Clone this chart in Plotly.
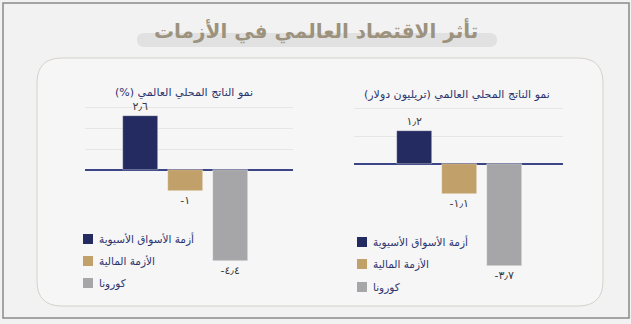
import plotly.graph_objects as go

# ---- data ----
crises = ["أزمة الأسواق الأسيوية", "الأزمة المالية", "كورونا"]
gdp_growth_pct = [2.6, -1.0, -4.4]          # نمو الناتج المحلي العالمي (%)
gdp_growth_tn = [1.2, -1.1, -3.7]           # نمو الناتج المحلي العالمي (تريليون دولار)
crisis_colors = ["#232b60", "#c1a169", "#a6a6a8"]

main_title = "تأثر الاقتصاد العالمي في الأزمات"
left_title = "نمو الناتج المحلي العالمي (%)\u200f"
right_title = "نمو الناتج المحلي العالمي (تريليون دولار)\u200f"

W, H = 631, 324
AR_FONT = "DejaVu Sans"
NAVY_TXT = "#2d3570"


def px(x):
    return x / W


def py(y):
    return 1 - y / H


def arabic_num(v):
    s = ("%g" % v)
    digits = "٠١٢٣٤٥٦٧٨٩"
    out = ""
    for ch in s:
        if ch.isdigit():
            out += digits[int(ch)]
        elif ch == ".":
            out += "٫"
        else:
            out += ch
    return out


def rounded_rect(x0, y0, x1, y1, r):
    rx, ry = r / W, r / H
    X0, X1 = px(x0), px(x1)
    Y0, Y1 = py(y0), py(y1)  # Y0 is top
    return (f"M{X0+rx},{Y0} L{X1-rx},{Y0} Q{X1},{Y0} {X1},{Y0-ry} "
            f"L{X1},{Y1+ry} Q{X1},{Y1} {X1-rx},{Y1} "
            f"L{X0+rx},{Y1} Q{X0},{Y1} {X0},{Y1+ry} "
            f"L{X0},{Y0-ry} Q{X0},{Y0} {X0+rx},{Y0} Z")


fig = go.Figure()

panels = [
    (gdp_growth_pct, "x", "y"),
    (gdp_growth_tn, "x2", "y2"),
]
for values, xa, ya in panels:
    for name, val, col in zip(crises, values, crisis_colors):
        fig.add_trace(go.Bar(
            x=[name], y=[val], name=name,
            xaxis=xa, yaxis=ya, showlegend=False,
            marker=dict(color=col, line=dict(color="rgba(255,255,255,0.6)", width=0.6)),
            width=0.778,
            text=[arabic_num(val)], textposition="outside",
            textfont=dict(family=AR_FONT, size=11, color="#3a3a3a"),
            cliponaxis=False, hoverinfo="skip",
        ))

axis_common = dict(showticklabels=False, ticks="", showline=False, fixedrange=True)
fig.update_layout(
    width=W, height=H,
    margin=dict(l=0, r=0, t=0, b=0),
    paper_bgcolor="#f2f2f2", plot_bgcolor="rgba(0,0,0,0)",
    bargap=0, showlegend=False,
    xaxis=dict(domain=[px(85), px(293)], range=[-1.233, 3.389], showgrid=False,
               zeroline=False, type="category", **axis_common),
    yaxis=dict(domain=[py(265), py(100)], range=[-4.578, 3.373], tickvals=[1, 2, 3],
               showgrid=True, gridcolor="#e6e6e6", gridwidth=1,
               zeroline=True, zerolinecolor="#3c4585", zerolinewidth=1.5,
               **axis_common),
    xaxis2=dict(domain=[px(354), px(563)], range=[-1.344, 3.3], showgrid=False,
                zeroline=False, type="category", anchor="y2", **axis_common),
    yaxis2=dict(domain=[py(275), py(100)], range=[-4.036, 2.327], tickvals=[1, 2],
                showgrid=True, gridcolor="#e6e6e6", gridwidth=1,
                zeroline=True, zerolinecolor="#3c4585", zerolinewidth=1.5,
                anchor="x2", **axis_common),
)

# frame, title band and rounded panel
fig.add_shape(type="rect", xref="paper", yref="paper",
              x0=px(3), x1=px(629), y0=py(318), y1=py(3),
              line=dict(color="#8a8a8a", width=1.5), fillcolor="rgba(0,0,0,0)",
              layer="below")
fig.add_shape(type="path", xref="paper", yref="paper",
              path=rounded_rect(137, 33, 497, 47, 7),
              fillcolor="#e1e1e1", line=dict(width=0), layer="below")
fig.add_shape(type="path", xref="paper", yref="paper",
              path=rounded_rect(37, 58, 603, 306, 25),
              fillcolor="#f6f6f6", line=dict(color="#d6d2c9", width=1),
              layer="below")

fig.add_annotation(text=main_title, xref="paper", yref="paper",
                   x=px(316), y=py(31), xanchor="center", yanchor="middle",
                   showarrow=False,
                   font=dict(family=AR_FONT, size=20, color="#9c927d", weight="bold"))
fig.add_annotation(text=left_title, xref="paper", yref="paper",
                   x=px(184), y=py(93), xanchor="center", yanchor="middle",
                   showarrow=False, font=dict(family=AR_FONT, size=11, color=NAVY_TXT))
fig.add_annotation(text=right_title, xref="paper", yref="paper",
                   x=px(457), y=py(95), xanchor="center", yanchor="middle",
                   showarrow=False, font=dict(family=AR_FONT, size=11, color=NAVY_TXT))

# swatch key beneath each panel
key_blocks = [(83, [239, 261, 283]), (357, [242, 264, 287])]
for kx, rows in key_blocks:
    for name, col, ky in zip(crises, crisis_colors, rows):
        fig.add_shape(type="rect", xref="paper", yref="paper",
                      x0=px(kx), x1=px(kx + 10), y0=py(ky + 5), y1=py(ky - 5),
                      fillcolor=col, line=dict(width=0))
        fig.add_annotation(text=name, xref="paper", yref="paper",
                           x=px(kx + 14), y=py(ky), xanchor="left", yanchor="middle",
                           showarrow=False,
                           font=dict(family=AR_FONT, size=10.5, color=NAVY_TXT))

fig.write_html("out.html")
